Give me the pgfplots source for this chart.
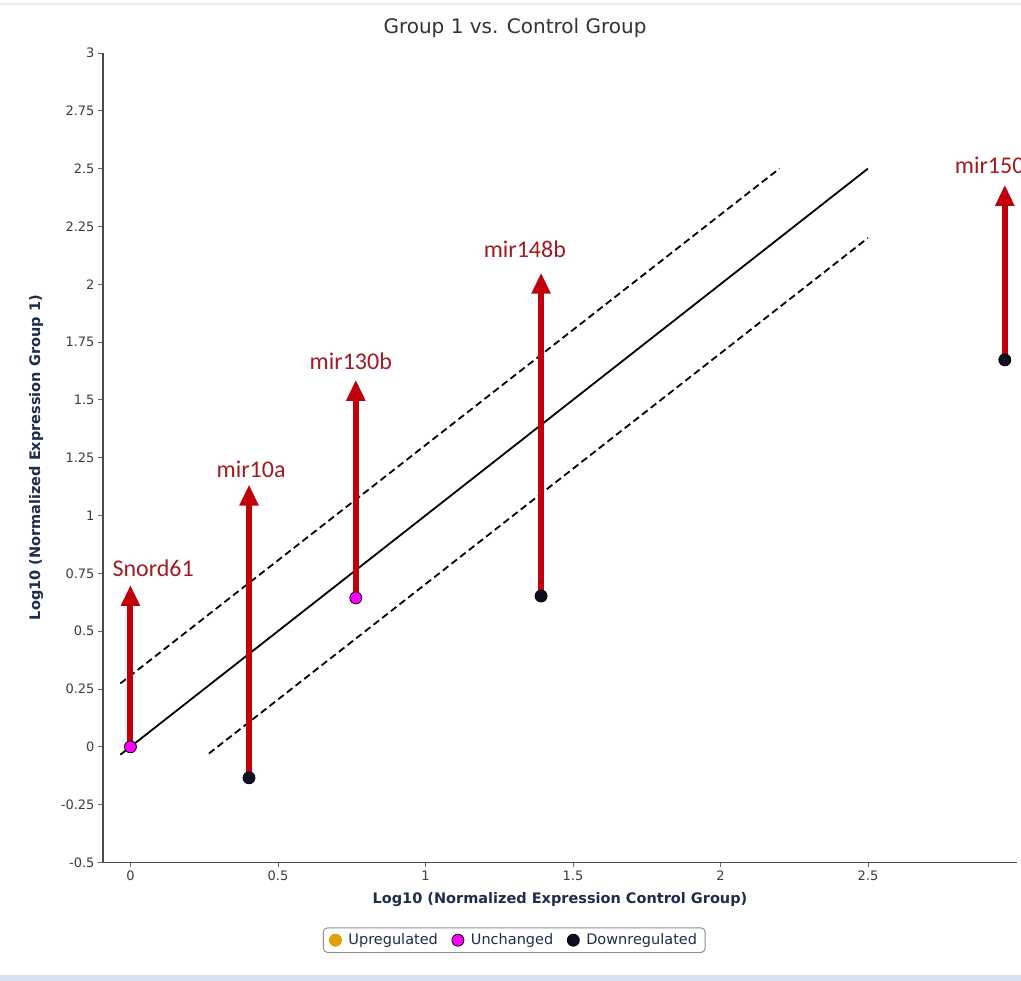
\documentclass[border=0pt]{standalone}
\usepackage{fontspec}
\setmainfont{DejaVu Sans}
\newfontfamily\carlito{Carlito}
\usepackage{pgfplots}
\pgfplotsset{compat=1.18}
\usetikzlibrary{arrows.meta}
\definecolor{arrred}{RGB}{192,0,10}
\definecolor{labred}{RGB}{160,28,34}
\definecolor{navy}{RGB}{30,45,75}
\definecolor{tickgray}{RGB}{60,60,60}
\definecolor{upor}{RGB}{224,160,0}
\definecolor{magp}{RGB}{255,0,255}
\definecolor{downb}{RGB}{15,15,35}
\definecolor{strip}{RGB}{216,226,238}
\begin{document}
\begin{tikzpicture}
\path[use as bounding box, fill=white] (0,0) rectangle (1021pt,981pt);
\fill[strip] (0,0) rectangle (1021pt,6pt);
\fill[black!8] (0,976pt) rectangle (1021pt,978pt);
\node[font=\fontsize{20}{24}\selectfont, color=black!80, anchor=base] at (515pt,947pt) {Group 1 vs. Control Group};
\begin{axis}[
  at={(103pt,118.5pt)}, anchor=south west,
  x=295pt, y=231.3pt,
  xmin=-0.093, xmax=3.005, ymin=-0.5, ymax=3,
  axis x line=bottom, axis y line=left,
  axis line style={-, line width=1.6pt, draw=black!70},
  tick align=outside,
  major tick length=5pt,
  every tick/.style={draw=black!60, line width=0.8pt},
  xtick={0,0.5,1,1.5,2,2.5},
  ytick={-0.5,-0.25,0,0.25,0.5,0.75,1,1.25,1.5,1.75,2,2.25,2.5,2.75,3},
  /pgf/number format/assume math mode=true,
  tick label style={font=\fontsize{13}{15}\selectfont, color=tickgray},
  xlabel={Log10 (Normalized Expression Control Group)},
  ylabel={Log10 (Normalized Expression Group 1)},
  xlabel style={font=\bfseries\fontsize{14.5}{16}\selectfont, color=navy, at={(axis description cs:0.5,-0.046)}, anchor=center},
  ylabel style={font=\bfseries\fontsize{14.5}{16}\selectfont, color=navy, at={(axis description cs:-0.073,0.5)}, anchor=center},
  clip=false,
  legend columns=3,
  legend style={at={(axis description cs:0.450,-0.096)}, anchor=center, draw=black!45, rounded corners=4pt, line width=0.9pt,
    font=\fontsize{14.5}{17}\selectfont, text=navy, inner xsep=6pt, inner ysep=4pt,
    /tikz/every odd column/.append style={column sep=5pt},
    /tikz/every even column/.append style={column sep=12pt}},
  legend cell align=left,
]
\addlegendimage{only marks, mark=*, mark size=6pt, draw=upor, fill=upor}
\addlegendentry{Upregulated}
% reference lines
\addplot[black, line width=1.8pt, forget plot] coordinates {(-0.034,-0.034) (2.5,2.5)};
\addplot[black, line width=1.8pt, dash pattern=on 7pt off 4pt, forget plot] coordinates {(-0.034,0.274) (2.2,2.5)};
\addplot[black, line width=1.8pt, dash pattern=on 7pt off 4pt, forget plot] coordinates {(0.266,-0.029) (2.5,2.2)};
% arrows
\addplot[arrred, line width=6pt, -{Triangle[width=18pt,length=21pt]}, forget plot] coordinates {(0,0) (0,0.70)};
\addplot[arrred, line width=6pt, -{Triangle[width=18pt,length=21pt]}, forget plot] coordinates {(0.402,-0.134) (0.402,1.134)};
\addplot[arrred, line width=6pt, -{Triangle[width=18pt,length=21pt]}, forget plot] coordinates {(0.764,0.644) (0.764,1.587)};
\addplot[arrred, line width=6pt, -{Triangle[width=18pt,length=21pt]}, forget plot] coordinates {(1.392,0.652) (1.392,2.05)};
\addplot[arrred, line width=6pt, -{Triangle[width=18pt,length=21pt]}, forget plot] coordinates {(2.964,1.673) (2.964,2.43)};
% points
\addplot[only marks, mark=*, mark size=6pt, mark options={draw=black, fill=magp, line width=0.8pt}] coordinates {(0,0) (0.764,0.644)};
\addlegendentry{Unchanged}
\addplot[only marks, mark=*, mark size=6pt, mark options={draw=black, fill=downb, line width=0.8pt}] coordinates {(0.402,-0.134) (1.392,0.652) (2.964,1.673)};
\addlegendentry{Downregulated}
% labels
\node[labred, font=\carlito\fontsize{24}{28}\selectfont] at (axis cs:0.077,0.771) {Snord61};
\node[labred, font=\carlito\fontsize{24}{28}\selectfont] at (axis cs:0.409,1.199) {mir10a};
\node[labred, font=\carlito\fontsize{24}{28}\selectfont] at (axis cs:0.747,1.666) {mir130b};
\node[labred, font=\carlito\fontsize{24}{28}\selectfont] at (axis cs:1.337,2.150) {mir148b};
\node[labred, font=\carlito\fontsize{24}{28}\selectfont, anchor=west, inner xsep=0pt] at (axis cs:2.794,2.513) {mir150};
\end{axis}
\end{tikzpicture}
\end{document}
